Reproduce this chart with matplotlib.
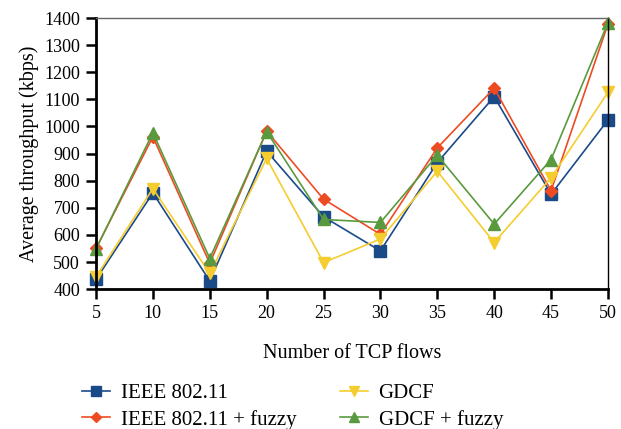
import matplotlib
matplotlib.use("Agg")
import matplotlib.pyplot as plt

flows = [5, 10, 15, 20, 25, 30, 35, 40, 45, 50]
ieee = [436, 755, 430, 909, 667, 541, 867, 1110, 750, 1024]
ieee_fuzzy = [550, 962, 495, 983, 732, 602, 921, 1141, 763, 1378]
gdcf = [445, 771, 458, 882, 498, 585, 835, 572, 811, 1126]
gdcf_fuzzy = [548, 977, 513, 981, 657, 646, 894, 640, 878, 1383]
yticks = [400, 500, 600, 700, 800, 900, 1000, 1100, 1200, 1300, 1400]

plt.rcParams['font.family'] = ['Liberation Serif', 'DejaVu Serif']
plt.rcParams['font.size'] = 13

fig = plt.figure(figsize=(6.21, 4.29), dpi=100)
ax = fig.add_axes([0.1546, 0.326, 0.8244, 0.632])

blue = '#1B4A89'
orange = '#EF4B23'
yellow = '#F5CD2E'
green = '#5A9A3F'

ax.plot(flows, ieee, color=blue, marker='s', markersize=8, lw=1.2, label='IEEE 802.11')
ax.plot(flows, ieee_fuzzy, color=orange, marker='D', markersize=6.5, lw=1.2, label='IEEE 802.11 + fuzzy')
ax.plot(flows, gdcf, color=yellow, marker='v', markersize=9, lw=1.2, label='GDCF')
ax.plot(flows, gdcf_fuzzy, color=green, marker='^', markersize=9, lw=1.2, label='GDCF + fuzzy')

ax.set_xlim(5, 50)
ax.set_ylim(400, 1400)
ax.set_xticks(flows)
ax.set_yticks(yticks)
ax.tick_params(direction='out', length=7.5, width=1.8, labelsize=13, pad=4)
for s in ['left', 'bottom']:
    ax.spines[s].set_linewidth(2)
ax.spines['top'].set_color('#666666')
ax.spines['top'].set_linewidth(1)
ax.spines['right'].set_linewidth(1)
for ln in ax.lines:
    ln.set_clip_on(False)

ax.set_xlabel('Number of TCP flows', fontsize=14.5, labelpad=16)
ax.set_ylabel('Average throughput (kbps)', fontsize=14.5, labelpad=4)

handles, labels = ax.get_legend_handles_labels()
leg = fig.legend(handles, labels, ncol=2,
                 loc='upper left', bbox_to_anchor=(0.102, 0.149), frameon=False,
                 fontsize=15, handlelength=1.35, columnspacing=2.1, labelspacing=0.3,
                 handletextpad=0.5, markerscale=0.85)

fig.savefig('out.png', dpi=100)
